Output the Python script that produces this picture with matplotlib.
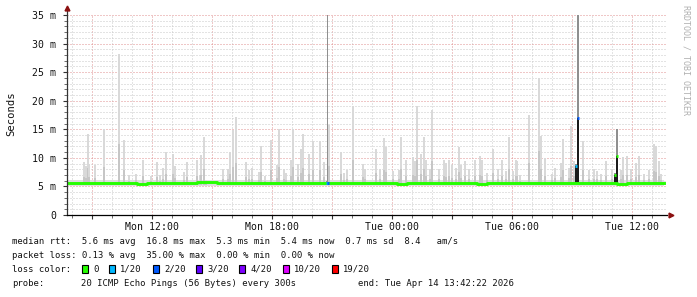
import matplotlib
matplotlib.use('Agg')
import matplotlib.pyplot as plt
from matplotlib.patches import Rectangle
from matplotlib.ticker import MultipleLocator

W, H = 697, 297

# time axis in hours since Mon 00:00, one ping round every 300 s
t_start = 7.75
t_end = 37.75
data_end = 37.6
step = 1 / 12

xtick_hours = [12, 18, 24, 30, 36]
xtick_labels = ["Mon 12:00", "Mon 18:00", "Tue 00:00", "Tue 06:00", "Tue 12:00"]
ytick_ms = [0, 5, 10, 15, 20, 25, 30, 35]
ytick_labels = ["0", "5 m", "10 m", "15 m", "20 m", "25 m", "30 m", "35 m"]

# smoke spikes: time (h) and highest ping (ms)
spike_hours = [8.53, 8.63, 8.75, 8.80, 9.10, 9.53, 10.28, 10.55, 10.78, 11.13,
               11.51, 11.90, 12.21, 12.33, 12.50, 12.63, 13.00, 13.11, 13.53, 13.71,
               14.21, 14.33, 14.38, 14.55, 14.63, 15.50, 15.75, 15.86, 16.00, 16.13,
               16.63, 16.78, 16.96, 17.28, 17.38, 17.61, 17.88, 18.21, 18.28, 18.55,
               18.66, 18.88, 19.00, 19.26, 19.38, 19.50, 19.78, 20.00, 20.36, 20.53,
               20.82, 21.38, 21.55, 21.71, 22.00, 22.50, 22.58, 23.13, 23.33, 23.53,
               23.63, 24.00, 24.28, 24.38, 24.63, 25.00, 25.11, 25.20, 25.38, 25.55,
               25.66, 25.83, 25.96, 26.30, 26.53, 26.66, 26.80, 26.96, 27.16, 27.28,
               27.41, 27.58, 27.80, 28.11, 28.36, 28.46, 28.71, 29.00, 29.25, 29.46,
               29.66, 29.78, 30.00, 30.13, 30.20, 30.36, 30.78, 31.28, 31.38, 31.61,
               31.95, 32.11, 32.38, 32.50, 32.78, 32.88, 33.05, 33.50, 33.78, 34.05,
               34.21, 34.38, 34.63, 34.95, 35.38, 35.50, 35.71, 35.91, 36.13, 36.28,
               36.55, 36.80, 37.05, 37.16, 37.28, 37.41]
spike_top = [9.3, 8.6, 14.2, 9.0, 8.7, 15.1, 28.1, 13.2, 7.0, 7.2,
             9.7, 6.9, 9.3, 7.0, 8.2, 11.1, 10.6, 8.6, 7.6, 9.3,
             9.7, 7.0, 10.5, 13.6, 6.2, 8.1, 8.0, 11.1, 14.8, 17.1,
             9.3, 7.8, 8.2, 7.6, 12.1, 6.8, 13.2, 8.7, 15.0, 8.0,
             7.4, 9.6, 15.0, 9.0, 11.5, 14.2, 10.7, 13.0, 13.0, 9.3,
             15.8, 11.1, 7.4, 7.8, 19.1, 9.0, 8.1, 11.5, 8.0, 13.4,
             11.9, 7.7, 7.9, 13.6, 9.7, 10.2, 9.4, 19.1, 10.6, 13.6,
             9.7, 8.1, 18.3, 8.1, 9.7, 9.1, 9.7, 8.8, 8.2, 11.9,
             8.8, 9.4, 8.1, 9.7, 10.3, 9.6, 7.4, 11.5, 8.1, 9.6,
             7.7, 13.7, 7.7, 9.7, 9.4, 7.0, 17.5, 24.0, 13.9, 9.9,
             7.2, 8.3, 9.1, 13.3, 8.3, 15.5, 9.5, 13.0, 7.9, 8.1,
             7.7, 7.1, 9.4, 8.1, 7.9, 10.2, 10.3, 8.1, 9.1, 10.3,
             7.1, 7.8, 12.4, 12.0, 9.4, 7.1]

# median rtt, one value per 30 min from t_start
median_ms = [5.6, 5.65, 5.55, 5.6, 5.65, 5.6, 5.55, 5.45, 5.55, 5.6,
             5.55, 5.6, 5.55, 5.7, 5.7, 5.6, 5.55, 5.6, 5.6, 5.55,
             5.6, 5.6, 5.55, 5.6, 5.65, 5.6, 5.55, 5.6, 5.55, 5.6,
             5.6, 5.65, 5.55, 5.5, 5.6, 5.6, 5.55, 5.6, 5.6, 5.55,
             5.6, 5.5, 5.6, 5.65, 5.55, 5.6, 5.6, 5.55, 5.6, 5.6,
             5.65, 5.55, 5.55, 5.55, 5.6, 5.5, 5.6, 5.6, 5.55, 5.6]

# rounds with a jump in median or loss: time, median, top of smoke, loss color
event_hours = [20.70, 20.76, 33.16, 33.26, 35.08, 35.18]
event_median = [5.6, 5.6, 8.6, 16.9, 7.0, 10.4]
event_top = [6.0, 35.0, 9.0, 35.0, 7.3, 15.1]
event_color = ['#00b8ff', '#0059ff', '#00b8ff', '#0059ff', '#26ff00', '#26ff00']

loss_labels = ["0", "1/20", "2/20", "3/20", "4/20", "10/20", "19/20"]
loss_colors = ['#26ff00', '#00b8ff', '#0059ff', '#5e00ff', '#7e00ff', '#dd00ff', '#ff0000']
loss_box_x = [82, 109, 153, 196, 239, 283, 332]

fig = plt.figure(figsize=(W / 100, H / 100), dpi=100)
fig.patch.set_facecolor('white')
ax = fig.add_axes([67 / W, 82 / H, 600 / W, 200 / H])
ax.set_xlim(t_start, t_end)
ax.set_ylim(0, 35)

mono = 'DejaVu Sans Mono'

# grid: 1 h / 1 ms minor, 3 h / 5 ms major
ax.xaxis.set_minor_locator(MultipleLocator(1))
ax.yaxis.set_minor_locator(MultipleLocator(1))
ax.grid(which='minor', color='#c8c8c8', linestyle=(0, (1, 2)), linewidth=0.72, zorder=0)
ax.grid(which='major', color='#e09090', linestyle=(0, (1, 2)), linewidth=0.72, zorder=0)
ax.set_axisbelow(True)

# baseline smoke band
ax.fill_between([t_start, data_end], 5.15, 6.2, color='#dedede', linewidth=0, zorder=1)

# smoke spikes
spike_w = 0.1
for h, top in zip(spike_hours, spike_top):
    ax.bar(h, top - 5.3, bottom=5.3, width=spike_w, align='edge', color='#d9d9d9',
           linewidth=0, zorder=2)
    inner = 5.6 + (top - 5.6) * 0.3
    ax.bar(h, inner - 5.3, bottom=5.3, width=spike_w, align='edge', color='#c6c6c6',
           linewidth=0, zorder=2)

# event rounds (loss / jumps)
for h, med, top in zip(event_hours, event_median, event_top):
    w = 0.05 if h < 21 else spike_w
    ax.bar(h, top - med, bottom=med, width=w, align='edge', color='#8f8f8f',
           linewidth=0, zorder=3)
    if med > 6:
        ax.bar(h, med - 5.6, bottom=5.6, width=w, align='edge', color='#1a1a1a',
               linewidth=0, zorder=3)

# median line
med_x = [t_start + 0.5 * i for i in range(len(median_ms))] + [data_end]
med_y = median_ms + [median_ms[-1]]
ax.step(med_x, med_y, where='post', color='#26ff00', linewidth=2.1, zorder=4)
for h, med, c in zip(event_hours, event_median, event_color):
    ax.plot([h, h + spike_w], [med, med], color=c, linewidth=2.1,
            solid_capstyle='butt', zorder=5)

# axes lines and arrows
for s in ['top', 'right', 'left', 'bottom']:
    ax.spines[s].set_visible(False)
ax.plot([0, 0], [0, 1.03], transform=ax.transAxes, color='#333333', linewidth=0.9,
        clip_on=False, zorder=6)
ax.plot([0, 1.0], [0, 0], transform=ax.transAxes, color='black', linewidth=0.9,
        clip_on=False, zorder=6)
ax.plot([0], [1.035], transform=ax.transAxes, marker='^', markersize=3.5,
        color='#8b1010', clip_on=False, zorder=7)
ax.plot([1.007], [0], transform=ax.transAxes, marker='>', markersize=3.5,
        color='#8b1010', clip_on=False, zorder=7)

# ticks: major every 3 h, labels every 6 h
major_x = list(range(9, 38, 3))
ax.set_xticks(major_x)
ax.set_xticklabels([xtick_labels[xtick_hours.index(h)] if h in xtick_hours else ''
                    for h in major_x], fontfamily=mono, fontsize=7.1)
ax.set_yticks(ytick_ms)
ax.set_yticklabels(ytick_labels, fontfamily=mono, fontsize=7.1)
ax.tick_params(axis='both', which='major', length=3, width=0.8, color='#333333',
               labelcolor='#111111')
ax.tick_params(axis='both', which='minor', length=2, width=0.6, color='#555555')
ax.tick_params(axis='x', which='major', pad=2)
ax.tick_params(axis='y', which='major', pad=5)

fig.text(11 / W, 1 - 114 / H, "Seconds", rotation=90, ha='center', va='center',
         fontfamily=mono, fontsize=7.6, color='#111111')
fig.text(686 / W, 1 - 5 / H, "RRDTOOL / TOBI OETIKER", rotation=-90, ha='center',
         va='top', fontfamily=mono, fontsize=6.0, color='#b0b0b0')

# legend lines
leg_fs = 6.4
rows = [
    "median rtt:  5.6 ms avg  16.8 ms max  5.3 ms min  5.4 ms now  0.7 ms sd  8.4   am/s",
    "packet loss: 0.13 % avg  35.00 % max  0.00 % min  0.00 % now",
]
for i, row in enumerate(rows):
    fig.text(12 / W, 1 - (241 + 14 * i) / H, row, ha='left', va='center',
             fontfamily=mono, fontsize=leg_fs, color='#111111')

fig.text(12 / W, 1 - 269 / H, "loss color:", ha='left', va='center',
         fontfamily=mono, fontsize=leg_fs, color='#111111')
for bx, lab, c in zip(loss_box_x, loss_labels, loss_colors):
    fig.patches.append(Rectangle((bx / W, 1 - 273 / H), 6 / W, 8 / H,
                                 transform=fig.transFigure, facecolor=c,
                                 edgecolor='black', linewidth=0.8))
    fig.text((bx + 11) / W, 1 - 269 / H, lab, ha='left', va='center',
             fontfamily=mono, fontsize=leg_fs, color='#111111')

fig.text(12 / W, 1 - 283 / H, "probe:", ha='left', va='center',
         fontfamily=mono, fontsize=leg_fs, color='#111111')
fig.text(81 / W, 1 - 283 / H, "20 ICMP Echo Pings (56 Bytes) every 300s", ha='left',
         va='center', fontfamily=mono, fontsize=leg_fs, color='#111111')
fig.text(358 / W, 1 - 283 / H, "end: Tue Apr 14 13:42:22 2026", ha='left',
         va='center', fontfamily=mono, fontsize=leg_fs, color='#111111')

fig.savefig('out.png', dpi=100, facecolor='white')
